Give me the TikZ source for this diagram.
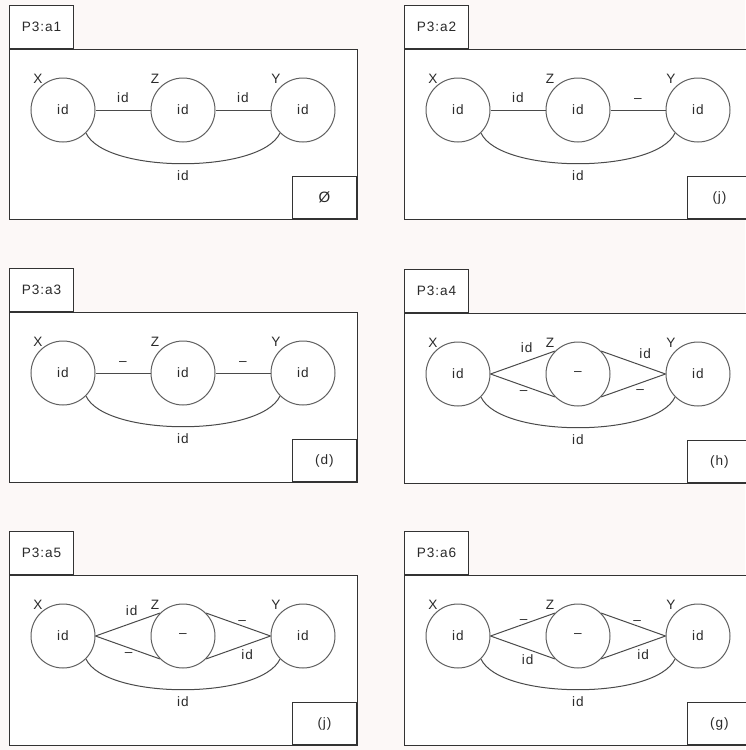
\documentclass[tikz,border=0pt]{standalone}
\usepackage{fontspec}
\setmainfont{Liberation Sans}[LetterSpace=7]
\definecolor{bgc}{HTML}{FCF8F7}
\definecolor{txt}{HTML}{2A2A2A}
\definecolor{lnc}{HTML}{4A4A4A}
\definecolor{cic}{HTML}{606060}
\definecolor{boxc}{HTML}{333333}
\newcommand\fsz{\fontsize{13.6}{15}\selectfont}
\tikzset{
  frame/.style={draw=boxc, fill=white, line width=1pt, rectangle, inner sep=0pt},
  tabbox/.style={frame, minimum width=64pt, minimum height=43pt, font=\fsz, text=txt},
  cornerbox/.style={frame, minimum width=64pt, minimum height=42pt, font=\fsz, text=txt},
  vert/.style={circle, draw=cic, fill=white, line width=1pt, minimum size=64pt, inner sep=0pt, font=\fsz, text=txt},
  tag/.style={font=\fsz, text=txt, inner sep=0pt, text height=9.7pt, text depth=2.7pt},
  lbl/.style={tag},
  conn/.style={draw=lnc, line width=1pt},
}
% #1 name, #2 tab text, #3 corner text, #4 text in Z
\newcommand\mkpanel[4]{%
  \node[frame, minimum width=348pt, minimum height=170pt, anchor=north west] (#1f) at (9,49) {};
  \node[tabbox, anchor=south west] (#1t) at (9,49) {#2};
  \node[cornerbox, anchor=south east] (#1c) at (357,219) {#3};
  \node[vert] (#1X) at (63,110) {id};
  \node[vert] (#1Z) at (183,110) {#4};
  \node[vert] (#1Y) at (303,110) {id};
  \node[tag] (#1lx) at (38,80) {X};
  \node[tag] (#1lz) at (155,80) {Z};
  \node[tag] (#1ly) at (276,80) {Y};
  \draw[conn] (#1X.-45) .. controls +(19,41) and +(-19,41) .. node[lbl, pos=0.5, yshift=-13pt] {id} (#1Y.-135);
}
\begin{document}
\begin{tikzpicture}[x=1pt, y=-1pt]
\useasboundingbox (0,0) rectangle (745,750);
\fill[bgc] (0,0) rectangle (745,750);

% a1
\begin{scope}
  \mkpanel{a1}{P3:a1}{\fontsize{15}{17}\selectfont Ø}{id}
  \draw[conn] (a1X) -- node[lbl, midway, yshift=11pt] {id} (a1Z);
  \draw[conn] (a1Z) -- node[lbl, midway, yshift=11pt] {id} (a1Y);
\end{scope}

% a2
\begin{scope}[shift={(395,0)}]
  \mkpanel{a2}{P3:a2}{(j)}{id}
  \draw[conn] (a2X) -- node[lbl, midway, yshift=11pt] {id} (a2Z);
  \draw[conn] (a2Z) -- node[lbl, midway, yshift=11pt] {–} (a2Y);
\end{scope}

% a3
\begin{scope}[shift={(0,263)}]
  \mkpanel{a3}{P3:a3}{(d)}{id}
  \draw[conn] (a3X) -- node[lbl, midway, yshift=11pt] {–} (a3Z);
  \draw[conn] (a3Z) -- node[lbl, midway, yshift=11pt] {–} (a3Y);
\end{scope}

% a4
\begin{scope}[shift={(395,264)}]
  \mkpanel{a4}{P3:a4}{(h)}{–}
  \draw[conn] (a4X.east) -- node[lbl, midway, xshift=4pt, yshift=14pt] {id} (a4Z.north west);
  \draw[conn] (a4X.east) -- node[lbl, midway, xshift=1pt, yshift=-6pt] {–} (a4Z.south west);
  \draw[conn] (a4Z.north east) -- node[lbl, midway, xshift=12pt, yshift=8pt] {id} (a4Y.west);
  \draw[conn] (a4Z.south east) -- node[lbl, midway, xshift=7pt, yshift=-5pt] {–} (a4Y.west);
\end{scope}

% a5
\begin{scope}[shift={(0,526)}]
  \mkpanel{a5}{P3:a5}{(j)}{–}
  \draw[conn] (a5X.east) -- node[lbl, midway, xshift=4pt, yshift=13pt] {id} (a5Z.north west);
  \draw[conn] (a5X.east) -- node[lbl, midway, xshift=1pt, yshift=-6pt] {–} (a5Z.south west);
  \draw[conn] (a5Z.north east) -- node[lbl, midway, xshift=4pt, yshift=4pt] {–} (a5Y.west);
  \draw[conn] (a5Z.south east) -- node[lbl, midway, xshift=9pt, yshift=-9pt] {id} (a5Y.west);
\end{scope}

% a6
\begin{scope}[shift={(395,526)}]
  \mkpanel{a6}{P3:a6}{(g)}{–}
  \draw[conn] (a6X.east) -- node[lbl, midway, xshift=1pt, yshift=5pt] {–} (a6Z.north west);
  \draw[conn] (a6X.east) -- node[lbl, midway, xshift=5pt, yshift=-14pt] {id} (a6Z.south west);
  \draw[conn] (a6Z.north east) -- node[lbl, midway, xshift=4pt, yshift=4pt] {–} (a6Y.west);
  \draw[conn] (a6Z.south east) -- node[lbl, midway, xshift=10pt, yshift=-9pt] {id} (a6Y.west);
\end{scope}
\end{tikzpicture}
\end{document}
